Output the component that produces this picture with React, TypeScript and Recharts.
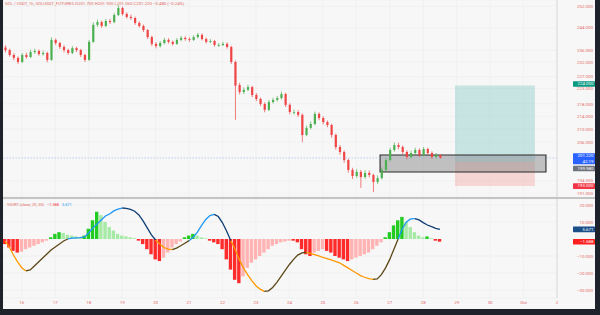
import React from "react";
import {
  ComposedChart,
  Bar,
  Line,
  XAxis,
  YAxis,
  CartesianGrid,
  ReferenceArea,
  ReferenceLine,
  Cell,
} from "recharts";

// ---- data (3h candles, Sep 15 12:00 -> Sep 28 12:00) ----
const dayTicks = [16, 17, 18, 19, 20, 21, 22, 23, 24, 25, 26, 27, 28, 29, 30, 31, 32];
const dayLabels = ["16", "17", "18", "19", "20", "21", "22", "23", "24", "25", "26", "27", "28", "29", "30", "Oct", "2"];
const priceTicks = [252, 244, 236, 232, 227, 223, 218, 214, 210, 206, 194.5, 191];
const oscTicks = [20, 10, -10, -20, -30];

const startDay = 15.5;
const stepDays = 0.125;
const firstOpen = 237.0;

const closes = [
  236.1, 234.4, 233.4, 232.0, 234.4, 233.7, 235.4, 235.8, 234.7, 235.1,
  232.7, 239.7, 238.6, 237.2, 236.1, 235.1, 236.8, 236.1, 234.4, 232.7,
  239.0, 245.1, 246.1, 244.7, 246.5, 246.1, 248.7, 251.3, 249.1, 248.0,
  247.6, 245.8, 244.7, 243.2, 240.7, 238.3, 237.5, 238.6, 239.7, 239.0,
  238.3, 239.7, 240.4, 240.0, 239.7, 240.7, 241.5, 240.0, 239.0, 239.3,
  237.9, 237.9, 238.3, 237.2, 232.0, 224.2, 221.9, 222.6, 223.5, 220.9,
  219.6, 218.0, 216.1, 218.6, 219.3, 219.9, 221.2, 217.7, 215.4, 215.4,
  214.5, 208.2, 210.4, 211.6, 214.8, 213.5, 212.2, 211.3, 208.2, 204.5,
  203.0, 200.6, 197.7, 195.9, 197.1, 195.6, 196.8, 196.2, 194.2, 195.3,
  197.7, 200.6, 203.6, 205.1, 204.5, 203.0, 201.5, 202.7, 203.6, 202.1,
  203.9, 202.7, 201.5, 202.1, 201.22,
];
const highs = [
  237.8, 236.6, 235.0, 233.9, 235.1, 235.2, 236.2, 236.6, 236.3, 235.9,
  235.5, 240.6, 240.2, 239.0, 237.8, 236.6, 237.5, 237.3, 236.5, 234.8,
  239.7, 246.0, 247.0, 246.6, 247.3, 247.3, 249.4, 252.4, 251.8, 249.7,
  248.8, 248.1, 246.4, 245.2, 243.6, 241.2, 238.9, 239.3, 240.4, 240.3,
  239.5, 240.3, 241.1, 241.0, 240.6, 241.4, 242.2, 242.0, 240.5, 240.0,
  239.7, 238.6, 239.0, 238.8, 237.6, 232.5, 224.9, 223.4, 224.3, 223.9,
  221.5, 220.1, 218.5, 219.3, 220.0, 220.6, 222.0, 221.6, 218.2, 216.2,
  216.0, 214.9, 211.1, 212.4, 215.5, 215.3, 214.0, 212.7, 211.7, 208.6,
  205.1, 203.5, 201.0, 198.3, 197.9, 197.7, 197.6, 197.5, 196.6, 196.1,
  198.4, 201.3, 204.3, 205.9, 205.8, 205.0, 203.5, 203.4, 204.3, 204.1,
  204.5, 204.3, 203.2, 202.7, 202.2,
];
const lows = [
  235.3, 233.8, 232.6, 231.3, 231.6, 233.1, 233.3, 234.8, 234.1, 234.2,
  231.9, 232.4, 237.9, 236.5, 235.3, 234.5, 234.7, 235.4, 233.7, 232.0,
  232.4, 238.6, 244.4, 244.0, 244.3, 245.4, 245.7, 248.3, 248.5, 247.4,
  246.9, 245.1, 244.1, 242.5, 240.0, 237.5, 236.7, 237.0, 238.1, 238.4,
  237.7, 237.9, 239.2, 239.4, 239.0, 239.3, 240.2, 239.5, 238.4, 238.5,
  237.3, 237.2, 237.5, 236.6, 231.3, 212.9, 221.1, 221.2, 222.1, 220.2,
  218.9, 217.3, 215.3, 215.7, 218.1, 218.8, 219.4, 217.0, 214.7, 214.6,
  213.8, 206.0, 207.8, 209.9, 211.2, 212.8, 211.5, 210.6, 207.4, 203.7,
  202.2, 199.8, 196.9, 195.0, 195.4, 192.5, 195.1, 195.5, 191.3, 193.6,
  194.9, 197.3, 200.2, 203.1, 203.8, 202.3, 200.8, 201.1, 202.2, 201.5,
  201.7, 202.1, 200.9, 201.0, 201.0,
];

// VSURT(close, 20, 50)
const oscLine = [
  -1.2, -4.7, -9.4, -13.5, -17.0, -18.8, -18.2, -15.9, -13.5, -11.2,
  -8.8, -6.5, -4.7, -2.9, -1.2, 0.0, 0.5, 0.7, 0.8, 1.2,
  3.5, 6.5, 8.8, 11.2, 13.5, 14.7, 16.5, 17.6, 18.2, 18.0,
  17.4, 16.3, 14.1, 10.6, 6.5, 2.4, -0.6, -3.0, -5.0, -6.0,
  -6.2, -5.4, -4.0, -2.5, -1.0, 1.0, 4.0, 8.0, 11.5, 13.8,
  14.5, 13.2, 9.5, 4.5, -1.0, -6.0, -12.0, -17.0, -21.0, -24.5,
  -27.5, -29.5, -30.8, -30.5, -28.5, -25.5, -22.0, -18.5, -15.0, -12.0,
  -9.5, -8.2, -7.8, -8.5, -9.2, -10.0, -10.8, -11.5, -12.3, -13.2,
  -14.0, -15.5, -17.0, -18.5, -20.0, -21.5, -22.5, -23.3, -23.8, -23.5,
  -21.0, -17.0, -12.0, -6.0, 0.0, 6.0, 10.0, 11.8, 12.0, 11.2,
  9.6, 8.2, 7.2, 6.3, 5.671,
];
const oscHist = [
  -3, -5, -7, -8, -7.5, -6, -5, -4, -3, -2,
  -1, 1, 3, 4, 3.5, 2.5, 2, 1.5, 1, 2,
  6, 11, 16, 14, 10, 7, 5, 3, 2, 1.5,
  1, 0.5, -1, -3, -6, -9, -12, -13, -11, -8,
  -5, -3, -1.5, 1, 2, 3, 2, 1, 0.5, -1,
  -2, -3, -6, -12, -18, -24, -26, -22, -17, -14,
  -12, -10, -8, -6, -4, -3, -2, -1.5, -1, -1,
  -2, -6, -9, -10, -8, -7, -6, -7, -8, -10,
  -11, -12, -13, -12, -11, -10, -9, -8, -6, -4,
  -2, 1, 4, 8, 11, 13, 10, 7, 4, 2,
  1, 1.5, 0.5, -1, -1.588,
];

// position tool + zone (prices and times)
const lastPrice = 201.22;
const entryPrice = 199.98;
const targetPrice = 224;
const stopPrice = 193;
const zoneLow = 197.08;
const zoneHigh = 202.11;
const zoneStart = 26.71;
const zoneEnd = 31.67;
const posStart = 28.95;
const posEnd = 31.34;

const X_DOMAIN = [15.438, 32.0];
const PRICE_DOMAIN = [189.9, 254.3];
const OSC_DOMAIN = [-34.7, 23.5];

const FONT = "Roboto, 'Noto Sans', sans-serif";
const AXIS_TEXT = "#e36a6a";
const UP = "#4caf50";
const DOWN = "#ef4545";
const GRID = "#ececec";

type Row = {
  t: number;
  open: number;
  close: number;
  high: number;
  low: number;
  range: [number, number];
  osc: number;
  hist: number;
  [k: string]: any;
};

const rows: Row[] = closes.map((close, i) => {
  const open = i === 0 ? firstOpen : closes[i - 1];
  return {
    t: startDay + i * stepDays,
    open,
    close,
    high: highs[i],
    low: lows[i],
    range: [lows[i], highs[i]],
    osc: oscLine[i],
    hist: oscHist[i],
  };
});

// colour the oscillator line by sign and slope
const segKey = (a: number, b: number) => {
  const above = (a + b) / 2 >= 0;
  const rising = b >= a;
  if (above) return rising ? "upRise" : "upFall";
  return rising ? "dnRise" : "dnFall";
};
for (let i = 0; i < rows.length - 1; i++) {
  const k = segKey(oscLine[i], oscLine[i + 1]);
  rows[i][k] = oscLine[i];
  rows[i + 1][k] = oscLine[i + 1];
}

const histColor = (i: number) => {
  const v = oscHist[i];
  const prev = i > 0 ? oscHist[i - 1] : 0;
  if (v >= 0) return v >= prev ? "#22cc22" : "#a6eaa6";
  return v <= prev ? "#ff2b2b" : "#ffb3b3";
};

const Candle = (props: any) => {
  const { x, y, width, height, payload } = props;
  if (!payload) return null;
  const { open, close, high, low } = payload;
  const color = close >= open ? UP : DOWN;
  const ratio = high === low ? 0 : height / (high - low);
  const yOf = (v: number) => y + (high - v) * ratio;
  const top = yOf(Math.max(open, close));
  const bodyH = Math.max(0.8, Math.abs(open - close) * ratio);
  const cx = x + width / 2;
  return (
    <g>
      <line x1={cx} x2={cx} y1={y} y2={y + height} stroke={color} strokeWidth={0.7} />
      <rect x={cx - 1.1} y={top} width={2.2} height={bodyH} fill={color} />
    </g>
  );
};

const TAG_X = 570;
const TAG_W = 22;

const PriceTag = ({ viewBox, text, sub, color, dy = 0 }: any) => {
  if (!viewBox) return null;
  const y = viewBox.y + dy;
  const h = sub ? 11 : 5.6;
  const top = sub ? y - 4.7 : y - 2.8;
  return (
    <g>
      <rect x={TAG_X} y={top} width={TAG_W} height={h} fill={color} rx={0.6} />
      <text x={TAG_X + TAG_W - 1.5} y={top + 4.2} textAnchor="end" fontSize={4.4} fill="#fff" fontFamily={FONT}>
        {text}
      </text>
      {sub && (
        <text x={TAG_X + TAG_W - 1.5} y={top + 9.4} textAnchor="end" fontSize={4.4} fill="#fff" fontFamily={FONT}>
          {sub}
        </text>
      )}
    </g>
  );
};

const fmt = (v: number) => (v < 0 ? "\u2212" + Math.abs(v).toFixed(3) : v.toFixed(3));

const RightTick = (p: any) => (
  <text x={590} y={p.y} dy={1.6} textAnchor="end" fontSize={4.4} fill={AXIS_TEXT} fontFamily={FONT}>
    {fmt(p.payload.value)}
  </text>
);

const DateTick = (p: any) => {
  const idx = dayTicks.indexOf(p.payload.value);
  return (
    <text x={p.x} y={104.5} textAnchor="middle" fontSize={4.4} fill={AXIS_TEXT} fontFamily={FONT}>
      {idx >= 0 ? dayLabels[idx] : ""}
    </text>
  );
};

export default function App() {
  return (
    <div style={{ position: "absolute", left: 0, top: 0, width: 600, height: 315, background: "#1e222b", overflow: "hidden" }}>
      <div style={{ position: "absolute", left: 3, top: 0, width: 592, height: 309, background: "#f7f7f7" }}>
        <div style={{ position: "absolute", left: 0, top: 0 }}>
          <ComposedChart width={592} height={197} data={rows} margin={{ top: 0, right: 0, bottom: 0, left: 0 }}>
            <CartesianGrid stroke={GRID} strokeWidth={0.6} />
            <XAxis dataKey="t" type="number" domain={X_DOMAIN} ticks={dayTicks} allowDataOverflow hide />
            <YAxis
              orientation="right"
              width={38}
              scale="log"
              domain={PRICE_DOMAIN}
              ticks={priceTicks}
              interval={0}
              allowDataOverflow
              tickLine={false}
              axisLine={{ stroke: "#dadada" }}
              tick={RightTick}
            />
            <ReferenceArea x1={posStart} x2={posEnd} y1={entryPrice} y2={targetPrice} fill="#26a69a" fillOpacity={0.22} stroke="none" />
            <ReferenceArea x1={posStart} x2={posEnd} y1={stopPrice} y2={entryPrice} fill="#ef5350" fillOpacity={0.2} stroke="none" />
            <Bar dataKey="range" barSize={3} isAnimationActive={false} shape={(p: any) => <Candle {...p} />} />
            <ReferenceArea
              x1={zoneStart}
              x2={zoneEnd}
              y1={zoneLow}
              y2={zoneHigh}
              fill="#8a8a8a"
              fillOpacity={0.5}
              stroke="#2a2a2a"
              strokeWidth={1.1}
            />
            <ReferenceLine y={lastPrice} stroke="#9fb2ec" strokeWidth={0.6} strokeDasharray="1.5 1.5"
              label={{ content: (p: any) => <PriceTag viewBox={p.viewBox} text="201.220" sub="42:19" color="#2962ff" /> }} />
            <ReferenceLine y={targetPrice} stroke="none"
              label={{ content: (p: any) => <PriceTag viewBox={p.viewBox} text="224.000" color="#089981" dy={-1.6} /> }} />
            <ReferenceLine y={entryPrice} stroke="none"
              label={{ content: (p: any) => <PriceTag viewBox={p.viewBox} text="199.980" color="#6f737e" dy={6.4} /> }} />
            <ReferenceLine y={stopPrice} stroke="none"
              label={{ content: (p: any) => <PriceTag viewBox={p.viewBox} text="193.000" color="#f23645" /> }} />
          </ComposedChart>
        </div>
        <div style={{ position: "absolute", left: 0, top: 197, width: 592, height: 2, background: "#c4c4c4" }} />
        <div style={{ position: "absolute", left: 0, top: 199 }}>
          <ComposedChart width={592} height={110} data={rows} margin={{ top: 0, right: 0, bottom: 0, left: 0 }}>
            <CartesianGrid stroke={GRID} strokeWidth={0.6} />
            <XAxis
              dataKey="t"
              type="number"
              domain={X_DOMAIN}
              ticks={dayTicks}
              interval={0}
              allowDataOverflow
              height={11}
              tickLine={false}
              axisLine={false}
              tick={DateTick}
            />
            <YAxis
              orientation="right"
              width={38}
              domain={OSC_DOMAIN}
              ticks={oscTicks}
              interval={0}
              allowDataOverflow
              tickLine={false}
              axisLine={{ stroke: "#dadada" }}
              tick={RightTick}
            />
            <Bar dataKey="hist" barSize={3.4} isAnimationActive={false}>
              {rows.map((r, i) => (
                <Cell key={`h-${i}`} fill={histColor(i)} />
              ))}
            </Bar>
            <Line dataKey="upRise" stroke="#2196f3" strokeWidth={1.3} dot={false} isAnimationActive={false} />
            <Line dataKey="upFall" stroke="#0f3d73" strokeWidth={1.3} dot={false} isAnimationActive={false} />
            <Line dataKey="dnFall" stroke="#ff9800" strokeWidth={1.3} dot={false} isAnimationActive={false} />
            <Line dataKey="dnRise" stroke="#5c4716" strokeWidth={1.3} dot={false} isAnimationActive={false} />
            <ReferenceLine y={oscLine[oscLine.length - 1]} stroke="none"
              label={{ content: (p: any) => <PriceTag viewBox={p.viewBox} text="5.671" color="#1c4f88" /> }} />
            <ReferenceLine y={oscHist[oscHist.length - 1]} stroke="none"
              label={{ content: (p: any) => <PriceTag viewBox={p.viewBox} text={"\u22121.588"} color="#ff1f1f" /> }} />
          </ComposedChart>
        </div>
        <svg width={592} height={309} style={{ position: "absolute", left: 0, top: 0, pointerEvents: "none" }}>
          <text x={2} y={4.6} fontSize={4.3} fill="#e06a64" fontFamily={FONT}>
            SOL / USDT, 1h, SOLUSDT_FUTURES  O201.700 H201.930 L201.060 C201.220 {"\u2212"}0.480 ({"\u2212"}0.24%)
          </text>
          <text x={4} y={205.5} fontSize={3.9} fontFamily={FONT}>
            <tspan fill="#e06a64">VSURT (close, 20, 50)</tspan>
            <tspan fill="#f23645" dx={3}>{"\u2212"}1.588</tspan>
            <tspan fill="#2196f3" dx={3}>5.671</tspan>
          </text>
        </svg>
      </div>
    </div>
  );
}
